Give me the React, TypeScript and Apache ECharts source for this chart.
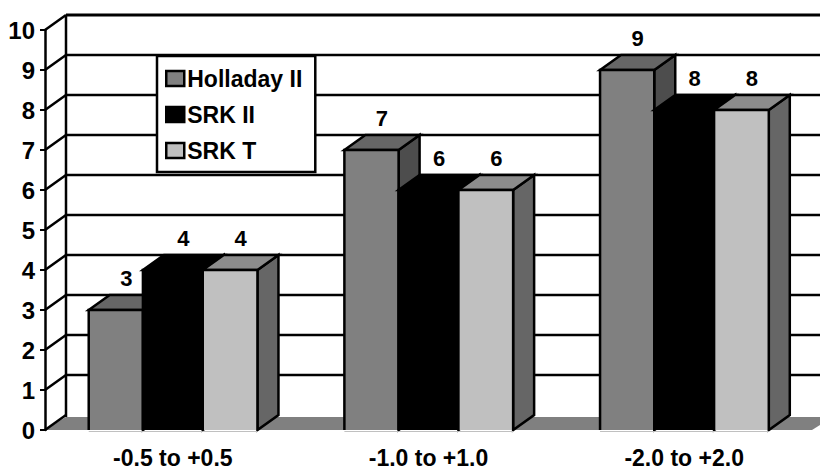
import React, { useEffect, useRef } from "react";
import * as echarts from "echarts";

const categories = ["-0.5 to +0.5", "-1.0 to +1.0", "-2.0 to +2.0"];
const seriesNames = ["Holladay II", "SRK II", "SRK T"];
const holladay = [3, 7, 9];
const srk2 = [4, 6, 8];
const srkT = [4, 6, 8];
const ticks = [0, 1, 2, 3, 4, 5, 6, 7, 8, 9, 10];

const DX = 21;
const DY = -15;
const LW = 2.5;
const fronts = ["#808080", "#000000", "#c0c0c0"];
const tops = ["#666666", "#000000", "#8c8c8c"];
const sides = ["#4d4d4d", "#000000", "#666666"];
const edges: [number, number][] = [
  [-0.329, -0.117],
  [-0.117, 0.117],
  [0.117, 0.331],
];

function barRenderer(idx: number) {
  return (_params: any, api: any) => {
    const cat = api.value(0);
    const val = api.value(1);
    const base = api.coord([cat, 0]);
    const top = api.coord([cat, val]);
    const band = api.size([1, 0])[0];
    const x0 = base[0] + edges[idx][0] * band;
    const x1 = base[0] + edges[idx][1] * band;
    const yT = top[1];
    const yB = base[1];
    const line = { fill: "none", stroke: "#000", lineWidth: LW };
    return {
      type: "group",
      children: [
        {
          type: "polygon",
          shape: { points: [[x1, yT], [x1 + DX, yT + DY], [x1 + DX, yB + DY], [x1, yB]] },
          style: { fill: sides[idx], stroke: "#000", lineWidth: LW },
        },
        {
          type: "polygon",
          shape: { points: [[x0, yT], [x0 + DX, yT + DY], [x1 + DX, yT + DY], [x1, yT]] },
          style: { fill: tops[idx], stroke: "#000", lineWidth: LW },
        },
        { type: "rect", shape: { x: x0, y: yT, width: x1 - x0, height: yB - yT }, style: { fill: fronts[idx] } },
        {
          type: "polyline",
          shape: { points: [[x0, yB], [x0, yT], [x1, yT], [x1, yB]] },
          style: line,
        },
        {
          type: "line",
          shape: { x1: x0, y1: yB + 1.5, x2: x1, y2: yB + 1.5 },
          style: { stroke: "#c0c0c0", lineWidth: 1 },
        },
        {
          type: "text",
          x: (x0 + x1) / 2 + DX / 2,
          y: yT - 32,
          style: {
            text: String(val),
            fill: "#000",
            font: 'bold 22px "Liberation Sans"',
            align: "center",
            verticalAlign: "middle",
          },
        },
      ],
    };
  };
}

function wallRenderer(params: any, api: any) {
  const v = api.value(0);
  const p = api.coord([0, v]);
  const cs = params.coordSys;
  const x0 = cs.x;
  const x1 = cs.x + cs.width;
  const y = p[1];
  const stroke = { stroke: "#000", lineWidth: LW };
  const children: any[] = [
    { type: "line", shape: { x1: x0, y1: y, x2: x0 + DX, y2: y + DY }, style: stroke },
  ];
  if (v === 0) {
    children.unshift({
      type: "polygon",
      shape: { points: [[x0, y], [x0 + DX, y + DY + 2], [x1 + DX, y + DY + 2], [x1, y]] },
      style: { fill: "#808080" },
    });
    children.push({
      type: "line",
      shape: { x1: x0 + DX, y1: y + DY + 2, x2: x0 + DX, y2: cs.y + DY },
      style: stroke,
    });
  } else {
    children.push({
      type: "line",
      shape: { x1: x0 + DX, y1: y + DY, x2: x1 + DX, y2: y + DY },
      style: { stroke: "#000", lineWidth: v === 10 ? 3 : LW },
    });
  }
  return { type: "group", children };
}

export default function App() {
  const ref = useRef<HTMLDivElement>(null);
  useEffect(() => {
    const chart = echarts.init(ref.current!, undefined, { renderer: "svg" });
    const values = [holladay, srk2, srkT];
    chart.setOption({
      animation: false,
      backgroundColor: "#fff",
      grid: { left: 45, top: 30, width: 767, height: 400, containLabel: false, outerBoundsMode: "none" },
      xAxis: {
        type: "category",
        data: categories,
        axisLine: { show: false },
        axisTick: { show: false },
        axisLabel: {
          color: "#000",
          margin: 16,
          fontFamily: "Liberation Sans",
          fontWeight: "bold",
          fontSize: 23,
          lineHeight: 23,
        },
      },
      yAxis: {
        type: "value",
        min: 0,
        max: 10,
        interval: 1,
        splitLine: { show: false },
        axisLine: { show: true, lineStyle: { color: "#000", width: LW } },
        axisTick: { show: true, length: 5, lineStyle: { color: "#000", width: 2 } },
        axisLabel: {
          color: "#000",
          margin: 10,
          fontFamily: "Liberation Sans",
          fontWeight: "bold",
          fontSize: 24,
        },
      },
      legend: {
        show: true,
        orient: "vertical",
        left: 157,
        top: 56,
        padding: [11, 13, 10, 8],
        itemGap: 13,
        itemWidth: 18,
        itemHeight: 15,
        backgroundColor: "#fff",
        borderColor: "#000",
        borderWidth: 2.5,
        borderRadius: 0,
        icon: "rect",
        selectedMode: false,
        textStyle: {
          color: "#000",
          fontFamily: "Liberation Sans",
          fontWeight: "bold",
          fontSize: 23,
          lineHeight: 21,
          padding: [0, 0, 0, -2],
        },
        data: seriesNames.map((name, i) => ({
          name,
          itemStyle: { color: fronts[i], borderColor: "#000", borderWidth: 2.5 },
        })),
      },
      series: [
        {
          type: "custom",
          name: "walls",
          renderItem: wallRenderer,
          data: ticks.map((t) => [t]),
          encode: { y: 0 },
          silent: true,
        },
        ...seriesNames.map((name, i) => ({
          type: "custom",
          name,
          renderItem: barRenderer(i),
          itemStyle: { color: fronts[i] },
          data: categories.map((_, c) => [c, values[i][c]]),
          encode: { x: 0, y: 1 },
          silent: true,
        })),
      ],
    });
    return () => chart.dispose();
  }, []);
  return <div ref={ref} style={{ position: "absolute", left: 0, top: 0, width: 820, height: 469 }} />;
}
